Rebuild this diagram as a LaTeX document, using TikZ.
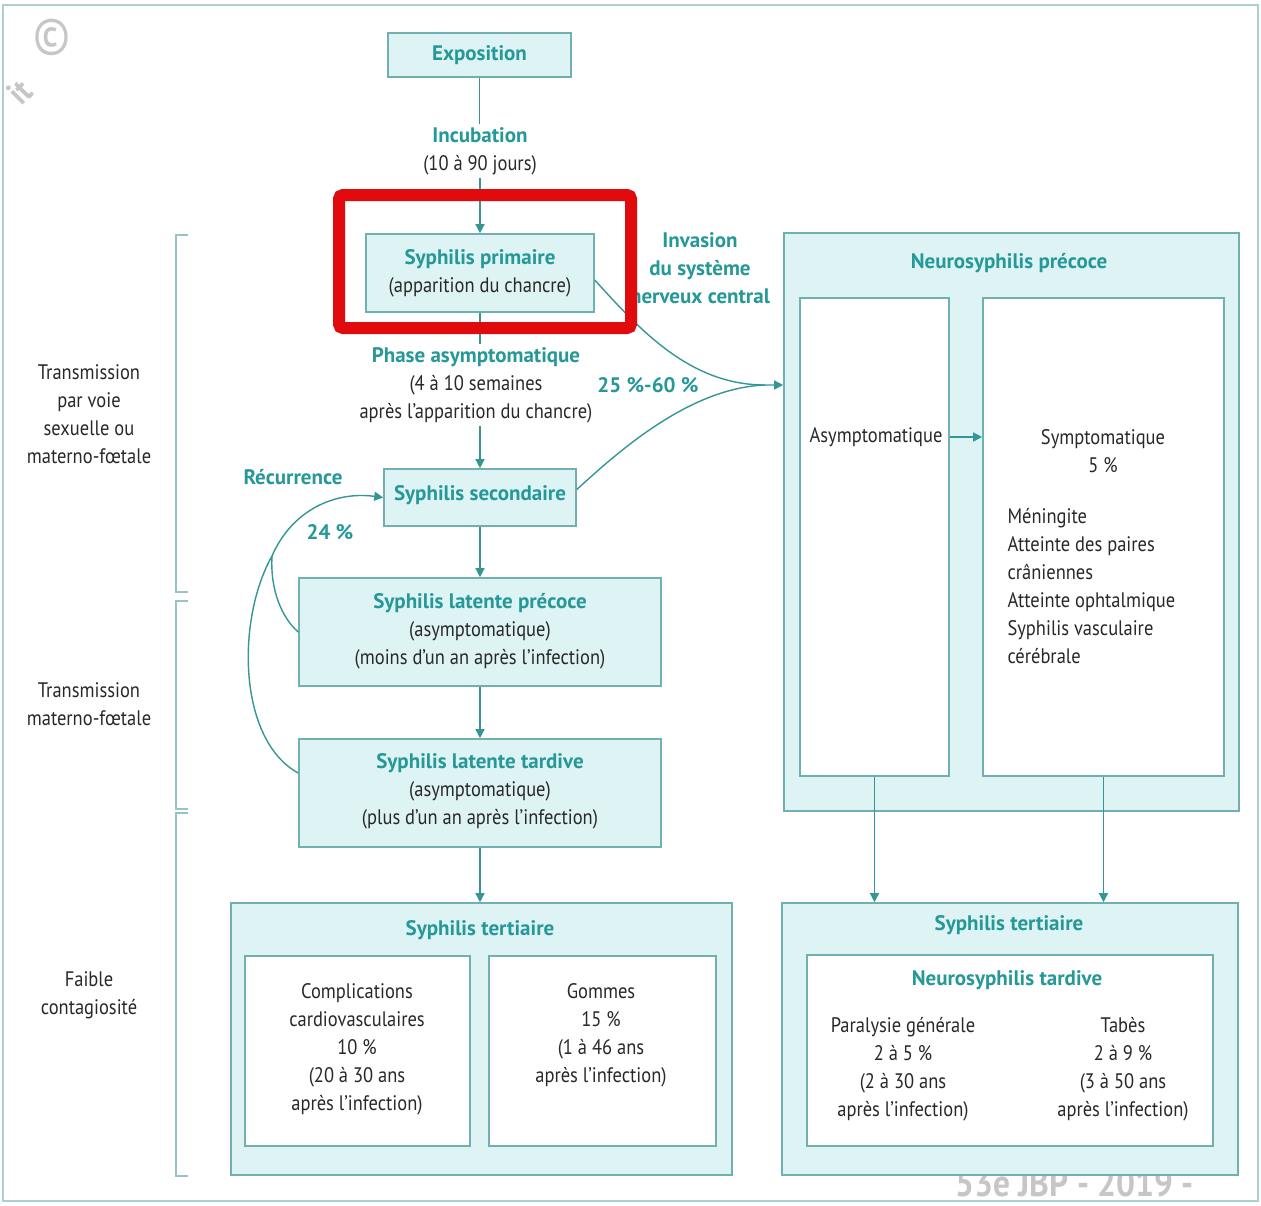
\documentclass[tikz,border=0pt]{standalone}
\usepackage{fontspec}
\setmainfont[FakeStretch=0.88]{PT Sans}
\newfontfamily\hfam{PT Sans}
\usetikzlibrary{arrows.meta,calc}
\definecolor{tl}{RGB}{38,152,152}
\definecolor{bf}{RGB}{221,243,244}
\definecolor{bd}{RGB}{112,176,177}
\definecolor{ar}{RGB}{52,150,150}
\definecolor{tx}{RGB}{40,40,40}
\definecolor{br}{RGB}{150,196,198}
\definecolor{fr}{RGB}{172,207,210}
\definecolor{hl}{RGB}{225,10,12}
\newcommand\fs{\fontsize{21}{28}\selectfont}
\newcommand\hd{\hfam\bfseries\color{tl}}
\begin{document}
\begin{tikzpicture}[x=1pt,y=-1pt,
  box/.style={draw=bd, fill=bf, line width=1.6pt, inner sep=0pt},
  wbox/.style={draw=bd, fill=white, line width=1.6pt, inner sep=0pt},
  ttl/.style={font=\hfam\bfseries\fs, text=tl, align=center},
  txt/.style={font=\fs, text=tx, align=center},
  con/.style={draw=ar, line width=1.4pt},
  arr/.style={con, -{Triangle[length=9pt,width=9pt]}},
  brk/.style={draw=br, line width=2.4pt},
  wm/.style={text=gray!45, inner sep=0pt}]
\useasboundingbox (0,0) rectangle (1261,1205);
\fill[white] (0,0) rectangle (1261,1205);
\draw[fr, line width=2pt] (3,5) rectangle (1258,1201);

% watermark
\node[wm, font=\fontsize{52}{52}\selectfont] (wmc) at (52,37) {©};
\node[wm, font=\bfseries\fontsize{34}{34}\selectfont, rotate=45] (wmt) at (20,92) {it};
\node[wm, font=\bfseries\fontsize{38}{38}\selectfont, anchor=base west] (wmb) at (955,1196) {53e JBP - 2019 -};

% left brackets
\draw[brk] (188,235) -- (176,235) -- (176,592) -- (188,592);
\draw[brk] (188,601) -- (176,601) -- (176,809) -- (188,809);
\draw[brk] (188,813) -- (176,813) -- (176,1176) -- (188,1176);
\node[txt] (lab1) at (89,414) {Transmission\\par voie\\sexuelle ou\\materno-fœtale};
\node[txt] (lab2) at (89,704) {Transmission\\materno-fœtale};
\node[txt] (lab3) at (89,995) {Faible\\contagiosité};

% main column
\node[box, minimum width=183pt, minimum height=44pt] (expo) at (479.5,55) {};
\node[ttl] (expot) at (expo) {Exposition};
\node[txt, inner sep=3pt] (incub) at (480,151) {{\hd Incubation}\\(10 à 90 jours)};
\node[box, minimum width=228pt, minimum height=78pt] (prim) at (480,273) {};
\node[txt] (primt) at (prim) {{\hd Syphilis primaire}\\(apparition du chancre)};
\node[txt, inner sep=3pt] (phase) at (476,385) {{\hd Phase asymptomatique}\\(4 à 10 semaines\\après l’apparition du chancre)};
\node[box, minimum width=192pt, minimum height=57pt] (sec) at (480,497.5) {};
\node[ttl] (sect) at (480,495) {Syphilis secondaire};
\node[box, minimum width=362pt, minimum height=108pt] (prec) at (480,632) {};
\node[txt] (prect) at (480,631) {{\hd Syphilis latente précoce}\\(asymptomatique)\\(moins d’un an après l’infection)};
\node[box, minimum width=362pt, minimum height=108pt] (tard) at (480,793) {};
\node[txt] (tardt) at (480,791) {{\hd Syphilis latente tardive}\\(asymptomatique)\\(plus d’un an après l’infection)};

% left tertiary
\node[box, minimum width=501pt, minimum height=272pt] (tertL) at (481.5,1039) {};
\node[ttl] (tertLt) at (480,930) {Syphilis tertiaire};
\node[wbox, minimum width=225pt, minimum height=190pt] (comp) at (357.5,1051) {};
\node[txt] (compt) at (357,1049) {Complications\\cardiovasculaires\\10 \%\\(20 à 30 ans\\après l’infection)};
\node[wbox, minimum width=227pt, minimum height=190pt] (gom) at (602.5,1051) {};
\node[txt] (gomt) at (601,1035) {Gommes\\15 \%\\(1 à 46 ans\\après l’infection)};

% neurosyphilis precoce
\node[box, minimum width=455pt, minimum height=578pt] (neuro) at (1011.5,522) {};
\node[ttl] (neurot) at (1009,263) {Neurosyphilis précoce};
\node[wbox, minimum width=149pt, minimum height=478pt] (asy) at (874.5,537) {};
\node[txt] (asyt) at (876,437) {Asymptomatique};
\node[wbox, minimum width=241pt, minimum height=478pt] (sym) at (1103.5,537) {};
\node[txt] (symt) at (1103,451) {Symptomatique\\5 \%};
\node[txt, align=left, anchor=west] (syml) at (1004,586.5) {Méningite\\Atteinte des paires\\crâniennes\\Atteinte ophtalmique\\Syphilis vasculaire\\cérébrale};

% right tertiary
\node[box, minimum width=456pt, minimum height=272pt] (tertR) at (1010,1039) {};
\node[ttl] (tertRt) at (1009,925) {Syphilis tertiaire};
\node[wbox, minimum width=406pt, minimum height=191pt] (nt) at (1010,1050.5) {};
\node[ttl] (ntt) at (1007,980) {Neurosyphilis tardive};
\node[txt] (par) at (903,1069) {Paralysie générale\\2 à 5 \%\\(2 à 30 ans\\après l’infection)};
\node[txt] (tab) at (1123,1069) {Tabès\\2 à 9 \%\\(3 à 50 ans\\après l’infection)};

% labels
\node[ttl] (inv) at (700,268) {Invasion\\du système\\nerveux central};
\node[ttl] (pct) at (648,385) {25 \%-60 \%};
\node[ttl] (rec) at (293,477) {Récurrence};
\node[ttl] (p24) at (330,532) {24 \%};

% connectors
\draw[con] (expo.south) -- (expo.south |- incub.north);
\draw[arr] (prim.north |- incub.south) -- (prim.north);
\draw[con] (prim.south) -- (prim.south |- phase.north);
\draw[arr] (sec.north |- phase.south) -- (sec.north);
\draw[arr] (sec.south) -- (prec.north);
\draw[arr] (prec.south) -- (tard.north);
\draw[arr] (tard.south) -- (tertL.north -| tard.south);

\coordinate (M) at (765,385);
\draw[arr] ($(prim.east)+(0,7)$) .. controls (640,330) and (690,385) .. (M) -- (neuro.west |- M);
\draw[con] ($(sec.east)+(0,-8)$) .. controls (620,450) and (690,388) .. (M);

\coordinate (R) at (272,556);
\draw[arr] ($(tard.west)+(0,-20)$) .. controls (238,740) and (236,620) .. (R) .. controls (292,510) and (335,491) .. (sec.west);
\draw[con] (prec.west) .. controls (282,618) and (270,590) .. (R);

\draw[arr] (asy.east |- asyt) -- (sym.west |- asyt);
\draw[arr] (asy.south) -- (asy.south |- tertR.north);
\draw[arr] (sym.south) -- (sym.south |- tertR.north);

% highlight
\draw[hl, line width=12pt, rounded corners=4pt] (339,195) rectangle (631,328);
\end{tikzpicture}
\end{document}
